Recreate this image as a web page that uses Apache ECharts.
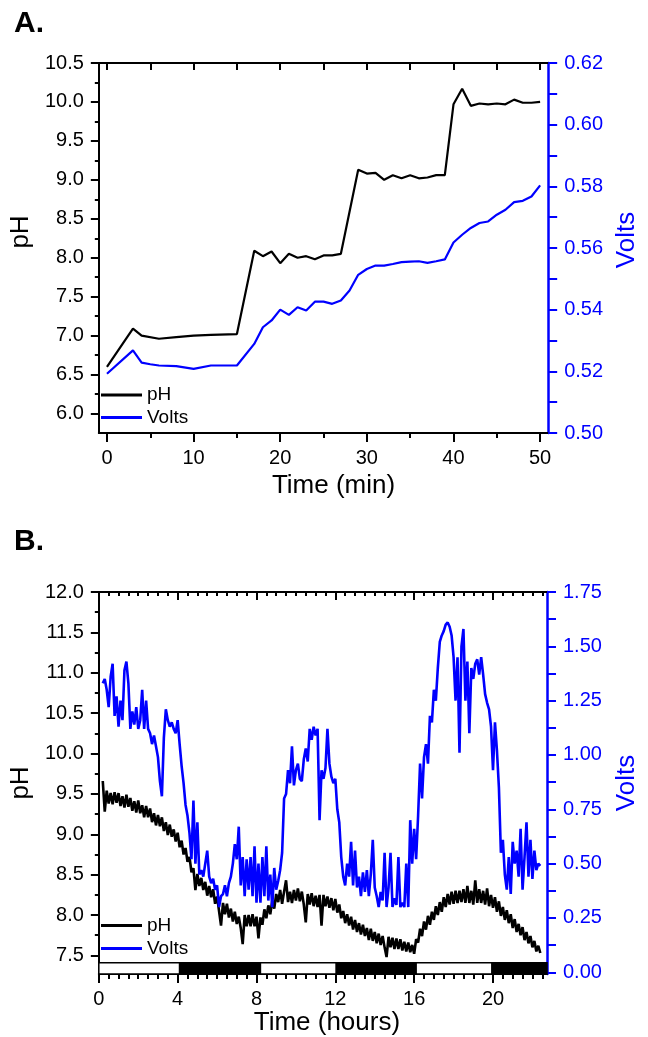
<!DOCTYPE html>
<html>
<head>
<meta charset="utf-8">
<script src="https://cdn.jsdelivr.net/npm/echarts@6/dist/echarts.min.js"></script>
<style>
html,body{margin:0;padding:0;background:#fff;}
#chart{width:648px;height:1037px;}
</style>
</head>
<body>
<div id="chart"></div>
<script>
// ---------- Panel A data (time in minutes) ----------
const timePhA = [0,3,4,6,8,10,12,15,17,18,19,20,21,22,23,24,25,26,27,29,30,31,32,33,34,35,36,37,38,39,40,41,42,43,44,45,46,47,48,49,50];
const phA = [6.60,7.09,7.00,6.96,6.98,7.00,7.01,7.02,8.09,8.02,8.08,7.93,8.05,8.00,8.02,7.98,8.03,8.03,8.05,9.13,9.08,9.09,9.00,9.06,9.02,9.06,9.02,9.03,9.06,9.06,9.97,10.17,9.95,9.98,9.97,9.98,9.97,10.03,9.99,9.99,10.00];
const timeVoltsA = [0,3,4,5,6,8,10,12,15,17,18,19,20,21,22,23,24,25,26,27,28,29,30,31,32,33,34,35,36,37,38,39,40,41,42,43,44,45,46,47,48,49,50];
const voltsA = [0.5192,0.5268,0.5228,0.5223,0.5219,0.5217,0.5208,0.5219,0.5219,0.5289,0.5343,0.5365,0.5400,0.5383,0.5408,0.5397,0.5426,0.5426,0.5419,0.5430,0.5462,0.5513,0.5532,0.5543,0.5543,0.5548,0.5554,0.5556,0.5557,0.5552,0.5557,0.5563,0.5618,0.5643,0.5665,0.5681,0.5686,0.5708,0.5724,0.5749,0.5753,0.5767,0.5803];

// ---------- Panel B data (time in hours) ----------
const hoursB = [
0.2,0.3,0.4,0.5,0.6,0.7,0.8,0.9,
1.0,1.1,1.2,1.3,1.4,1.5,1.6,1.7,1.8,1.9,
2.0,2.1,2.2,2.3,2.4,2.5,2.6,2.7,2.8,2.9,
3.0,3.1,3.2,3.3,3.4,3.5,3.6,3.7,3.8,3.9,
4.0,4.1,4.2,4.3,4.4,4.5,4.6,4.7,4.8,4.9,
5.0,5.1,5.2,5.3,5.4,5.5,5.6,5.7,5.8,5.9,
6.0,6.1,6.2,6.3,6.4,6.5,6.6,6.7,6.8,6.9,
7.0,7.1,7.2,7.3,7.4,7.5,7.6,7.7,7.8,7.9,
8.0,8.1,8.2,8.3,8.4,8.5,8.6,8.7,8.8,8.9,
9.0,9.1,9.2,9.3,9.4,9.5,9.6,9.7,9.8,9.9,
10.0,10.1,10.2,10.3,10.4,10.5,10.6,10.7,10.8,10.9,
11.0,11.1,11.2,11.3,11.4,11.5,11.6,11.7,11.8,11.9,
12.0,12.1,12.2,12.3,12.4,12.5,12.6,12.7,12.8,12.9,
13.0,13.1,13.2,13.3,13.4,13.5,13.6,13.7,13.8,13.9,
14.0,14.1,14.2,14.3,14.4,14.5,14.6,14.7,14.8,14.9,
15.0,15.1,15.2,15.3,15.4,15.5,15.6,15.7,15.8,15.9,
16.0,16.1,16.2,16.3,16.4,16.5,16.6,16.7,16.8,16.9,
17.0,17.1,17.2,17.3,17.4,17.5,17.6,17.7,17.8,17.9,
18.0,18.1,18.2,18.3,18.4,18.5,18.6,18.7,18.8,18.9,
19.0,19.1,19.2,19.3,19.4,19.5,19.6,19.7,19.8,19.9,
20.0,20.1,20.2,20.3,20.4,20.5,20.6,20.7,20.8,20.9,
21.0,21.1,21.2,21.3,21.4,21.5,21.6,21.7,21.8,21.9,
22.0,22.1,22.2,22.3,22.4
];
const phB = [
9.66,9.28,9.54,9.38,9.51,9.37,9.52,9.39,
9.51,9.35,9.47,9.33,9.49,9.34,9.45,9.29,9.41,9.27,
9.42,9.26,9.36,9.21,9.35,9.21,9.32,9.15,9.26,9.11,
9.24,9.10,9.21,9.04,9.15,8.99,9.12,8.97,9.06,8.91,
9.02,8.84,8.92,8.75,8.83,8.66,8.72,8.53,8.58,8.31,
8.51,8.36,8.46,8.31,8.41,8.24,8.36,8.22,8.32,8.14,
8.23,8.05,7.87,8.15,8.01,8.14,7.97,8.08,7.92,8.04,
7.89,7.98,7.84,7.64,8.00,7.86,8.00,7.86,8.01,7.86,
7.98,7.71,7.97,7.88,8.07,7.96,8.12,8.01,8.18,8.08,
8.26,8.16,8.31,8.14,8.29,8.43,8.16,8.29,8.15,8.31,
8.18,8.33,8.17,8.29,8.13,7.91,8.26,8.13,8.27,8.11,
8.24,8.10,8.25,7.87,8.25,8.11,8.23,8.09,8.21,8.06,
8.20,8.03,8.13,7.96,8.05,7.90,8.01,7.87,7.98,7.82,
7.94,7.79,7.90,7.76,7.88,7.74,7.84,7.69,7.83,7.68,
7.79,7.65,7.77,7.63,7.74,7.60,7.48,7.73,7.60,7.72,
7.58,7.71,7.58,7.70,7.56,7.67,7.55,7.66,7.54,7.63,
7.52,7.70,7.66,7.83,7.74,7.92,7.82,7.99,7.88,8.04,
7.94,8.11,8.00,8.16,8.04,8.22,8.10,8.26,8.13,8.29,
8.14,8.30,8.15,8.30,8.16,8.32,8.15,8.36,8.15,8.30,
8.13,8.43,8.15,8.32,8.15,8.30,8.13,8.33,8.11,8.25,
8.09,8.22,8.04,8.17,7.99,8.10,7.94,8.06,7.90,8.01,
7.84,7.95,7.79,7.89,7.75,7.85,7.69,7.79,7.65,7.74,
7.60,7.68,7.55,7.62,7.53
];
const voltsB = [
1.33,1.35,1.30,1.22,1.36,1.42,1.18,1.27,
1.13,1.25,1.16,1.39,1.43,1.33,1.12,1.20,1.14,1.22,
1.12,1.16,1.30,1.12,1.25,1.12,1.10,1.05,1.09,1.04,
0.99,0.88,0.81,1.08,1.21,1.16,1.13,1.15,1.12,1.10,
1.16,1.05,0.95,0.87,0.77,0.72,0.64,0.52,0.79,0.50,
0.69,0.45,0.47,0.44,0.50,0.56,0.44,0.41,0.43,0.38,
0.40,0.30,0.35,0.36,0.40,0.35,0.41,0.44,0.50,0.59,
0.52,0.67,0.40,0.53,0.35,0.52,0.38,0.53,0.35,0.58,
0.32,0.50,0.32,0.53,0.35,0.58,0.33,0.45,0.30,0.48,
0.38,0.42,0.47,0.55,0.80,0.82,0.93,0.87,1.04,0.86,
0.93,0.96,0.89,0.88,0.98,1.03,0.97,1.12,1.07,1.13,
1.09,1.12,0.70,0.93,0.89,0.94,1.12,0.96,0.90,0.87,
0.89,0.75,0.69,0.53,0.44,0.40,0.50,0.44,0.60,0.40,
0.56,0.39,0.44,0.35,0.46,0.37,0.47,0.35,0.45,0.61,
0.39,0.35,0.30,0.37,0.33,0.55,0.30,0.39,0.55,0.30,
0.34,0.31,0.53,0.30,0.32,0.30,0.50,0.30,0.70,0.50,
0.66,0.52,0.72,0.96,0.80,0.99,1.05,0.96,1.18,1.15,
1.30,1.25,1.40,1.52,1.55,1.57,1.60,1.61,1.59,1.55,
1.45,1.25,1.45,1.01,1.50,1.58,1.25,1.43,1.10,1.40,
1.35,1.42,1.44,1.37,1.45,1.37,1.28,1.24,1.21,1.13,
0.93,1.15,1.02,0.85,0.55,0.61,0.45,0.38,0.53,0.36,
0.60,0.50,0.56,0.44,0.66,0.38,0.53,0.69,0.44,0.61,
0.43,0.56,0.47,0.50,0.49
];

// light / dark periods (hours) for the bar at the bottom of panel B
const dayBounds = [0, 4.1, 8.2, 12.05, 16.1, 19.95, 22.75];
const dayShades = ['light','dark','light','dark','light','dark'];

// ---------- Tick values ----------
const xTicksA = [0,10,20,30,40,50];
const xMinorA = [5,15,25,35,45];
const xTopA = [0,5,10,15,20,25,30,35,40,45,50];
const phTicksA = [6.0,6.5,7.0,7.5,8.0,8.5,9.0,9.5,10.0,10.5];
const phMinorA = [6.25,6.75,7.25,7.75,8.25,8.75,9.25,9.75,10.25];
const vTicksA = [0.50,0.52,0.54,0.56,0.58,0.60,0.62];
const vAllTicksA = [0.50,0.51,0.52,0.53,0.54,0.55,0.56,0.57,0.58,0.59,0.60,0.61,0.62];

const xTicksB = [0,4,8,12,16,20];
const xMinorB = [0.5,1,1.5,2,2.5,3,3.5,4.5,5,5.5,6,6.5,7,7.5,8.5,9,9.5,10,10.5,11,11.5,12.5,13,13.5,14,14.5,15,15.5,16.5,17,17.5,18,18.5,19,19.5,20.5,21,21.5,22,22.5];
const phTicksB = [7.5,8.0,8.5,9.0,9.5,10.0,10.5,11.0,11.5,12.0];
const phMinorB = [7.75,8.25,8.75,9.25,9.75,10.25,10.75,11.25,11.75];
const vTicksB = [0,0.25,0.5,0.75,1.0,1.25,1.5,1.75];
const vAllTicksB = [0,0.125,0.25,0.375,0.5,0.625,0.75,0.875,1.0,1.125,1.25,1.375,1.5,1.625,1.75];

// ---------- helpers ----------
const FONT = "'Liberation Sans', Arial, Helvetica, sans-serif";
const BLACK = '#000000';
const BLUE = '#0000ff';
function pairs(xs, ys){ const n=Math.min(xs.length, ys.length); const out=[]; for(let i=0;i<n;i++) out.push([xs[i], ys[i]]); return out; }

function xAx(grid, min, max, pos, opts){
  return Object.assign({
    gridIndex: grid, type:'value', min:min, max:max, position:pos,
    splitLine:{show:false},
    axisLine:{show:true, onZero:false, lineStyle:{color:BLACK, width:2}},
    axisTick:{show:true, inside:false, length:9, lineStyle:{color:BLACK, width:2}},
    axisLabel:{show:false}
  }, opts);
}
function yAx(grid, min, max, pos, color, opts){
  return Object.assign({
    gridIndex: grid, type:'value', min:min, max:max, position:pos,
    splitLine:{show:false},
    axisLine:{show:true, onZero:false, lineStyle:{color:color, width:2}},
    axisTick:{show:true, inside:false, length:8, lineStyle:{color:color, width:2}},
    axisLabel:{show:false}
  }, opts);
}
const lblStyle = (color, margin, vals, digits) => ({show:true, customValues: vals, color: color, fontSize: 20, fontFamily: FONT, margin: margin,
  formatter: v => digits == null ? String(v) : Number(v).toFixed(digits)});
const nameStyle = (color, padding) => ({color: color, fontSize: 26, fontFamily: FONT, padding: padding});

const xAxes = [
  // panel A
  xAx(0, -0.94, 50.93, 'bottom', {
    axisTick:{show:true, customValues:xTicksA, length:9, lineStyle:{color:BLACK,width:2}},
    axisLabel: lblStyle(BLACK, 15, xTicksA, null),
    name:'Time (min)', nameLocation:'middle', nameGap:40, nameTextStyle: nameStyle(BLACK,[0,0,0,20])
  }),
  xAx(0, -0.94, 50.93, 'bottom', {
    axisLine:{show:false, onZero:false},
    axisTick:{show:true, customValues:xMinorA, length:5, lineStyle:{color:BLACK,width:2}}
  }),
  xAx(0, -0.94, 50.93, 'top', {
    axisTick:{show:true, inside:true, customValues:xTopA, length:7, lineStyle:{color:BLACK,width:2}}
  }),
  // panel B
  xAx(1, 0, 22.74, 'bottom', {
    axisTick:{show:true, customValues:xTicksB, length:9, lineStyle:{color:BLACK,width:2}},
    axisLabel: lblStyle(BLACK, 15, xTicksB, null),
    name:'Time (hours)', nameLocation:'middle', nameGap:36, nameTextStyle: nameStyle(BLACK,[0,0,0,8])
  }),
  xAx(1, 0, 22.74, 'bottom', {
    axisLine:{show:false, onZero:false},
    axisTick:{show:true, customValues:xMinorB, length:5, lineStyle:{color:BLACK,width:2}}
  }),
  xAx(1, 0, 22.74, 'top', {
    axisTick:{show:true, inside:true, customValues:xTicksB, length:8, lineStyle:{color:BLACK,width:2}}
  }),
  xAx(1, 0, 22.74, 'top', {
    axisLine:{show:false, onZero:false},
    axisTick:{show:true, inside:true, customValues:xMinorB, length:4, lineStyle:{color:BLACK,width:2}}
  })
];

const yAxes = [
  // panel A
  yAx(0, 5.75, 10.5, 'left', BLACK, {
    axisTick:{show:true, customValues:phTicksA, length:8, lineStyle:{color:BLACK,width:2}},
    axisLabel: lblStyle(BLACK, 15, phTicksA, 1),
    name:'pH', nameLocation:'middle', nameRotate:90, nameGap:55, nameTextStyle: nameStyle(BLACK,[0,0,0,32])
  }),
  yAx(0, 5.75, 10.5, 'left', BLACK, {
    axisLine:{show:false, onZero:false},
    axisTick:{show:true, customValues:phMinorA, length:4, lineStyle:{color:BLACK,width:2}}
  }),
  yAx(0, 0.5, 0.62, 'right', BLUE, {
    axisLine:{show:true, onZero:false, lineStyle:{color:BLUE, width:2.5}},
    axisTick:{show:true, customValues:vAllTicksA, length:9, lineStyle:{color:BLUE,width:2}},
    axisLabel: lblStyle(BLUE, 16, vTicksA, 2),
    name:'Volts', nameLocation:'middle', nameRotate:90, nameGap:62, nameTextStyle: nameStyle(BLUE,[0,0,0,16])
  }),
  // panel B
  yAx(1, 7.27, 12, 'left', BLACK, {
    axisTick:{show:true, customValues:phTicksB, length:8, lineStyle:{color:BLACK,width:2}},
    axisLabel: lblStyle(BLACK, 15, phTicksB, 1),
    name:'pH', nameLocation:'middle', nameRotate:90, nameGap:55, nameTextStyle: nameStyle(BLACK,[0,0,0,0])
  }),
  yAx(1, 7.27, 12, 'left', BLACK, {
    axisLine:{show:false, onZero:false},
    axisTick:{show:true, customValues:phMinorB, length:4, lineStyle:{color:BLACK,width:2}}
  }),
  yAx(1, -0.008, 1.75, 'right', BLUE, {
    axisLine:{show:true, onZero:false, lineStyle:{color:BLUE, width:2.5}},
    axisTick:{show:true, customValues:vAllTicksB, length:9, lineStyle:{color:BLUE,width:2}},
    axisLabel: lblStyle(BLUE, 16, vTicksB, 2),
    name:'Volts', nameLocation:'middle', nameRotate:90, nameGap:67, nameTextStyle: nameStyle(BLUE,[0,0,0,0])
  })
];

const dayAreas = dayShades.map((s, i) => [
  {xAxis: dayBounds[i], yAxis: 7.27, itemStyle:{color: s === 'dark' ? BLACK : '#ffffff', borderColor: BLACK, borderWidth: 1.5}},
  {xAxis: dayBounds[i+1], yAxis: 7.41}
]);

const legendBase = {
  orient:'vertical', left:101, padding:0, itemWidth:41, itemHeight:3, selectedMode:false,
  data:[{name:'pH', icon:'rect', itemStyle:{color:BLACK}}, {name:'Volts', icon:'rect', itemStyle:{color:BLUE}}],
  textStyle:{fontSize:19, color:BLACK, fontFamily:FONT}
};

const option = {
  animation:false,
  backgroundColor:'#ffffff',
  textStyle:{fontFamily:FONT},
  grid:[
    {left:92, top:63, width:457, height:370, containLabel:false},
    {left:92, top:592, width:457, height:382, containLabel:false}
  ],
  xAxis: xAxes,
  yAxis: yAxes,
  legend:[
    Object.assign({}, legendBase, {top:385.5, itemGap:3.4}),
    Object.assign({}, legendBase, {top:916, itemGap:4})
  ],
  graphic:[
    {type:'text', style:{x:14, y:24, text:'A.', verticalAlign:'middle', align:'left', fill:BLACK, font:"bold 30px 'Liberation Sans', Arial, sans-serif"}},
    {type:'text', style:{x:14, y:541.5, text:'B.', verticalAlign:'middle', align:'left', fill:BLACK, font:"bold 30px 'Liberation Sans', Arial, sans-serif"}}
  ],
  series:[
    {name:'pH', type:'line', xAxisIndex:0, yAxisIndex:0, data: pairs(timePhA, phA), symbol:'none',
      lineStyle:{color:BLACK, width:2.2}, itemStyle:{color:BLACK}},
    {name:'Volts', type:'line', xAxisIndex:0, yAxisIndex:2, data: pairs(timeVoltsA, voltsA), symbol:'none',
      lineStyle:{color:BLUE, width:2.2}, itemStyle:{color:BLUE}},
    {name:'pH', type:'line', xAxisIndex:3, yAxisIndex:3, data: pairs(hoursB, phB), symbol:'none',
      lineStyle:{color:BLACK, width:2.6}, itemStyle:{color:BLACK},
      markArea:{silent:true, data: dayAreas}},
    {name:'Volts', type:'line', xAxisIndex:3, yAxisIndex:5, data: pairs(hoursB, voltsB), symbol:'none',
      lineStyle:{color:BLUE, width:2.6}, itemStyle:{color:BLUE}}
  ]
};

const chart = echarts.init(document.getElementById('chart'), null, {renderer:'canvas'});
chart.setOption(option);
</script>
</body>
</html>
